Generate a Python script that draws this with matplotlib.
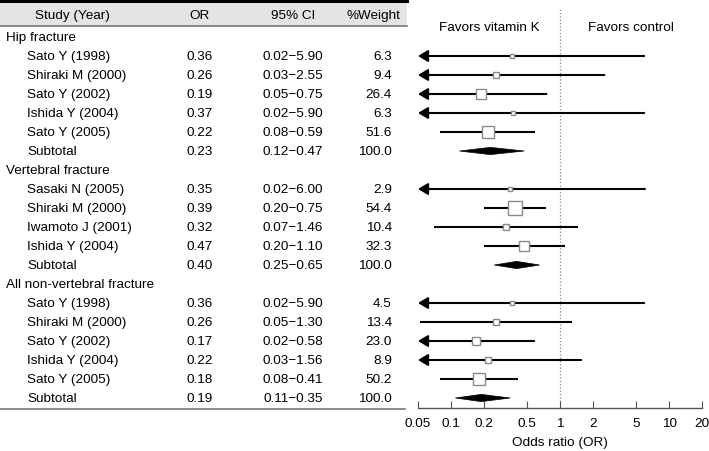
import numpy as np
import matplotlib
matplotlib.use("Agg")
import matplotlib.pyplot as plt
from matplotlib import transforms
from matplotlib.patches import Rectangle, Polygon
from matplotlib.lines import Line2D

plt.rcParams["font.family"] = ["Liberation Sans", "DejaVu Sans"]
plt.rcParams["font.size"] = 9.7

W, H = 709, 451

groups = ["Hip fracture", "Vertebral fracture", "All non-vertebral fracture"]
studies = [
    ["Sato Y (1998)", "Shiraki M (2000)", "Sato Y (2002)", "Ishida Y (2004)", "Sato Y (2005)"],
    ["Sasaki N (2005)", "Shiraki M (2000)", "Iwamoto J (2001)", "Ishida Y (2004)"],
    ["Sato Y (1998)", "Shiraki M (2000)", "Sato Y (2002)", "Ishida Y (2004)", "Sato Y (2005)"],
]
odds = [
    [0.36, 0.26, 0.19, 0.37, 0.22],
    [0.35, 0.39, 0.32, 0.47],
    [0.36, 0.26, 0.17, 0.22, 0.18],
]
lower = [
    [0.02, 0.03, 0.05, 0.02, 0.08],
    [0.02, 0.20, 0.07, 0.20],
    [0.02, 0.05, 0.02, 0.03, 0.08],
]
upper = [
    [5.90, 2.55, 0.75, 5.90, 0.59],
    [6.00, 0.75, 1.46, 1.10],
    [5.90, 1.30, 0.58, 1.56, 0.41],
]
weights = [
    [6.3, 9.4, 26.4, 6.3, 51.6],
    [2.9, 54.4, 10.4, 32.3],
    [4.5, 13.4, 23.0, 8.9, 50.2],
]
# CI runs past the left edge of the plot (drawn as arrow)
truncated = [
    [True, True, True, True, False],
    [True, False, False, False],
    [True, False, True, True, False],
]
sub_or = [0.23, 0.40, 0.19]
sub_lo = [0.12, 0.25, 0.11]
sub_hi = [0.47, 0.65, 0.35]

ticks = [0.05, 0.1, 0.2, 0.5, 1, 2, 5, 10, 20]
tick_labels = ["0.05", "0.1", "0.2", "0.5", "1", "2", "5", "10", "20"]
XMIN, XMAX = 0.05, 20

# pixel helpers (rows are 19 px apart, first row at y=37 px)
ROW0, STEP = 37, 19
def row_of(py):
    return (py - ROW0) / STEP
def fx(px):
    return px / W
def fy(py):
    return 1 - py / H

fig = plt.figure(figsize=(W / 100, H / 100), dpi=100)
ax = fig.add_axes([fx(418), fy(408), fx(702) - fx(418), 408 / H])
ax.set_xscale("log")
ax.set_xlim(XMIN, XMAX)
ax.set_ylim(row_of(408), row_of(0))

for s in ["top", "left", "right"]:
    ax.spines[s].set_visible(False)
ax.spines["bottom"].set_color("#555555")
ax.spines["bottom"].set_linewidth(1.0)
ax.set_xticks(ticks)
ax.set_xticklabels(tick_labels)
ax.minorticks_off()
ax.tick_params(axis="x", direction="in", length=5, color="#555555", pad=7)
ax.set_yticks([])
ax.set_xlabel("Odds ratio (OR)", labelpad=5)
ax.patch.set_alpha(0)

# table text: x in figure fraction, y in row coordinates
tt = transforms.blended_transform_factory(fig.transFigure, ax.transData)
VA = "center_baseline"

# header band
fig.patches.append(Rectangle((0, fy(25)), fx(407), fy(2) - fy(25),
                             transform=fig.transFigure, facecolor="#e4e4e4",
                             edgecolor="none", zorder=-5))
fig.add_artist(Line2D([0, fx(407)], [fy(1), fy(1)], color="black", lw=2.2))
fig.add_artist(Line2D([0, fx(407)], [fy(25.5), fy(25.5)], color="#777777", lw=1.2))
fig.add_artist(Line2D([0, fx(405)], [fy(409), fy(409)], color="#777777", lw=1.2))

hy = row_of(15)
ax.text(fx(72), hy, "Study (Year)", transform=tt, ha="center", va=VA)
ax.text(fx(200), hy, "OR", transform=tt, ha="center", va=VA)
ax.text(fx(293), hy, "95% CI", transform=tt, ha="center", va=VA)
ax.text(fx(373), hy, "%Weight", transform=tt, ha="center", va=VA)

def box_size(w):
    return max(4.0, 1.8 * np.sqrt(w)) * 0.72

row = 0
for g in range(len(groups)):
    ax.text(fx(6), row, groups[g], transform=tt, ha="left", va=VA)
    row += 1
    for name, o, lo, hi, w, cut in zip(studies[g], odds[g], lower[g], upper[g],
                                       weights[g], truncated[g]):
        ax.text(fx(27), row, name, transform=tt, ha="left", va=VA)
        ax.text(fx(200), row, f"{o:.2f}", transform=tt, ha="center", va=VA)
        ax.text(fx(293), row, f"{lo:.2f}\u2212{hi:.2f}", transform=tt, ha="center", va=VA)
        ax.text(fx(392), row, f"{w:.1f}", transform=tt, ha="right", va=VA)
        if cut:
            ax.annotate("", xy=(XMIN, row), xytext=(hi, row),
                        arrowprops=dict(arrowstyle="-|>,head_length=0.6,head_width=0.36",
                                        color="black", lw=1.5, shrinkA=0, shrinkB=0),
                        zorder=2)
        else:
            ax.plot([max(lo, XMIN * 1.04), hi], [row, row], color="black", lw=1.5,
                    zorder=2, solid_capstyle="butt")
        ax.plot([o], [row], marker="s", ms=box_size(w), mfc="white", mec="#8a8a8a",
                mew=1.0, zorder=3)
        row += 1
    ax.text(fx(27), row, "Subtotal", transform=tt, ha="left", va=VA)
    ax.text(fx(200), row, f"{sub_or[g]:.2f}", transform=tt, ha="center", va=VA)
    ax.text(fx(293), row, f"{sub_lo[g]:.2f}\u2212{sub_hi[g]:.2f}", transform=tt,
            ha="center", va=VA)
    ax.text(fx(392), row, "100.0", transform=tt, ha="right", va=VA)
    dh = 0.19
    ax.add_patch(Polygon([[sub_lo[g], row], [sub_or[g], row - dh],
                          [sub_hi[g], row], [sub_or[g], row + dh]],
                         closed=True, facecolor="black", edgecolor="black", lw=0.5,
                         zorder=3))
    row += 1

# line of no effect
ax.plot([1, 1], [row_of(408), row_of(8)], color="#888888", lw=0.9, ls=":",
        zorder=1, clip_on=False)

fy_lab = row_of(27)
ax.text(np.sqrt(XMIN * 1), fy_lab, "Favors vitamin K", ha="center", va=VA)
ax.text(np.sqrt(1 * XMAX), fy_lab, "Favors control", ha="center", va=VA)

fig.savefig("out.png", dpi=100)
